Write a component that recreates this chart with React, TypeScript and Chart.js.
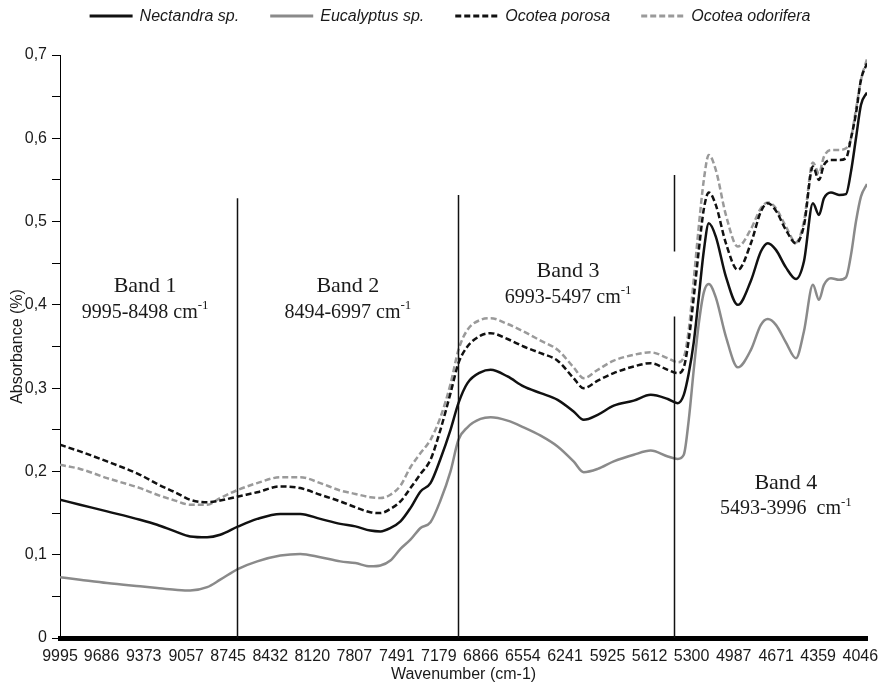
import React, { useEffect, useRef } from 'react';
import { Chart, registerables } from 'chart.js';

Chart.register(...registerables);

// Wavenumbers (cm-1) of the sampled spectrum points
const WAVENUMBERS = [
  9995, 9846, 9645, 9400, 9273, 9139, 9027, 8901, 8804, 8670,
  8529, 8357, 8209, 8060, 7911, 7799, 7688, 7613, 7539, 7464,
  7390, 7315, 7241, 7167, 7092, 7033, 6966, 6869, 6794, 6668,
  6549, 6422, 6296, 6177, 6102, 5998, 5879, 5730, 5604, 5477,
  5403, 5358, 5321, 5284, 5246, 5209, 5172, 5120, 5045, 4956,
  4859, 4785, 4733, 4673, 4599, 4524, 4465, 4398, 4353, 4316,
  4264, 4204, 4152, 4115, 4078, 4041, 3996,
];

const NECTANDRA = [
  0.166, 0.160, 0.152, 0.142, 0.136, 0.128, 0.122, 0.121, 0.124, 0.134,
  0.143, 0.149, 0.149, 0.143, 0.137, 0.134, 0.129, 0.128, 0.132, 0.140,
  0.156, 0.176, 0.186, 0.215, 0.250, 0.282, 0.306, 0.319, 0.322, 0.314,
  0.302, 0.294, 0.286, 0.272, 0.262, 0.268, 0.279, 0.285, 0.292, 0.287,
  0.282, 0.292, 0.318, 0.355, 0.410, 0.465, 0.498, 0.482, 0.434, 0.400,
  0.429, 0.464, 0.474, 0.466, 0.445, 0.431, 0.452, 0.522, 0.508, 0.528,
  0.535, 0.532, 0.533, 0.560, 0.600, 0.640, 0.655,
];

const EUCALYPTUS = [
  0.073, 0.070, 0.066, 0.062, 0.060, 0.058, 0.057, 0.061, 0.070, 0.083,
  0.092, 0.099, 0.101, 0.097, 0.092, 0.090, 0.086, 0.087, 0.093, 0.107,
  0.118, 0.132, 0.139, 0.165, 0.200, 0.238, 0.253, 0.263, 0.265, 0.261,
  0.253, 0.243, 0.230, 0.212, 0.199, 0.203, 0.212, 0.220, 0.225, 0.218,
  0.215, 0.220, 0.262, 0.322, 0.378, 0.415, 0.425, 0.409, 0.362, 0.325,
  0.346, 0.376, 0.383, 0.376, 0.355, 0.336, 0.368, 0.424, 0.406, 0.424,
  0.432, 0.430, 0.433, 0.460, 0.500, 0.530, 0.545,
];

const OCOTEA_POROSA = [
  0.232, 0.224, 0.212, 0.196, 0.185, 0.175, 0.166, 0.163, 0.165, 0.170,
  0.175, 0.182, 0.180, 0.172, 0.164, 0.157, 0.151, 0.150, 0.155, 0.164,
  0.180, 0.197, 0.214, 0.250, 0.294, 0.330, 0.350, 0.363, 0.366, 0.359,
  0.350, 0.342, 0.333, 0.312, 0.300, 0.309, 0.318, 0.326, 0.330, 0.322,
  0.318, 0.325, 0.358, 0.409, 0.466, 0.515, 0.535, 0.520, 0.474, 0.442,
  0.474, 0.512, 0.522, 0.513, 0.490, 0.474, 0.495, 0.566, 0.550, 0.568,
  0.574, 0.574, 0.576, 0.600, 0.630, 0.670, 0.690,
];

const OCOTEA_ODORIFERA = [
  0.208, 0.203, 0.192, 0.180, 0.172, 0.165, 0.160, 0.160, 0.168, 0.178,
  0.186, 0.193, 0.193, 0.186, 0.177, 0.173, 0.169, 0.168, 0.172, 0.183,
  0.205, 0.222, 0.238, 0.265, 0.305, 0.346, 0.370, 0.382, 0.384, 0.377,
  0.368, 0.357, 0.346, 0.325, 0.312, 0.322, 0.333, 0.340, 0.343, 0.336,
  0.331, 0.337, 0.370, 0.430, 0.495, 0.550, 0.580, 0.562, 0.508, 0.470,
  0.491, 0.516, 0.523, 0.516, 0.494, 0.475, 0.500, 0.571, 0.558, 0.578,
  0.586, 0.586, 0.588, 0.600, 0.635, 0.670, 0.695,
];

const SERIES_NAMES = ['Nectandra sp.', 'Eucalyptus sp.', 'Ocotea porosa', 'Ocotea odorifera'];

const X_TICKS = [
  9995, 9686, 9373, 9057, 8745, 8432, 8120, 7807, 7491, 7179,
  6866, 6554, 6241, 5925, 5612, 5300, 4987, 4671, 4359, 4046,
];
const X_MIN = 3996;
const X_MAX = 9995;
const Y_MIN = 0;
const Y_MAX = 0.7;
const Y_STEP = 0.05;

// Band separators (wavenumber, top value, optional gap [low, high])
const BAND_LINES = [8678, 7033, 5433];
const BAND_LINE_TOPS = [0.528, 0.532, 0.556];
const BAND_LINE_GAPS: (number[] | null)[] = [null, null, [0.386, 0.464]];

// Band annotations
const BAND_NAMES = ['Band 1', 'Band 2', 'Band 3', 'Band 4'];
const BAND_RANGES = ['9995-8498 cm', '8494-6997 cm', '6993-5497 cm', '5493-3996  cm'];
const BAND_LABEL_X = [9362, 7855, 6218, 4599];
const BAND_LABEL_Y = [0.422, 0.422, 0.440, 0.186];

const BLACK = '#111111';
const GRAY = '#8a8a8a';
const GRAY_DASH = '#9a9a9a';
const SANS = "'Liberation Sans', Arial, Helvetica, sans-serif";
const SERIF = "'Liberation Serif', 'Times New Roman', serif";

const bandPlugin = {
  id: 'bands',
  afterDatasetsDraw(chart: any) {
    const { ctx, scales } = chart;
    const xs = scales.x;
    const ys = scales.y;
    ctx.save();
    ctx.strokeStyle = BLACK;
    ctx.lineWidth = 1.5;
    BAND_LINES.forEach((wn, i) => {
      const x = Math.round(xs.getPixelForValue(wn)) + 0.5;
      const yTop = ys.getPixelForValue(BAND_LINE_TOPS[i]);
      const yBot = ys.getPixelForValue(0);
      const gap = BAND_LINE_GAPS[i];
      ctx.beginPath();
      if (gap) {
        ctx.moveTo(x, yTop);
        ctx.lineTo(x, ys.getPixelForValue(gap[1]));
        ctx.moveTo(x, ys.getPixelForValue(gap[0]));
        ctx.lineTo(x, yBot);
      } else {
        ctx.moveTo(x, yTop);
        ctx.lineTo(x, yBot);
      }
      ctx.stroke();
    });

    ctx.fillStyle = '#1a1a1a';
    ctx.textBaseline = 'middle';
    BAND_NAMES.forEach((name, i) => {
      const cx = xs.getPixelForValue(BAND_LABEL_X[i]);
      const cy = ys.getPixelForValue(BAND_LABEL_Y[i]);
      ctx.font = `22px ${SERIF}`;
      ctx.textAlign = 'center';
      ctx.fillText(name, cx, cy);
      // range text with superscript -1
      const base = BAND_RANGES[i];
      ctx.font = `20px ${SERIF}`;
      const wBase = ctx.measureText(base).width;
      ctx.font = `13px ${SERIF}`;
      const wSup = ctx.measureText('-1').width;
      const startX = cx - (wBase + wSup) / 2;
      ctx.textAlign = 'left';
      ctx.font = `20px ${SERIF}`;
      ctx.fillText(base, startX, cy + 26);
      ctx.font = `13px ${SERIF}`;
      ctx.fillText('-1', startX + wBase, cy + 19);
    });
    ctx.restore();
  },
};

const legendPlugin = {
  id: 'customLegend',
  afterDraw(chart: any) {
    const ctx = chart.ctx;
    ctx.save();
    ctx.font = `italic 16px ${SANS}`;
    const lineLen = 43;
    const gapText = 7;
    const gapItem = 31;
    const items = chart.data.datasets.map((ds: any) => ({
      text: ds.label,
      w: ctx.measureText(ds.label).width,
      color: ds.borderColor,
      dash: ds.borderDash || [],
    }));
    const total =
      items.reduce((s: number, it: any) => s + lineLen + gapText + it.w, 0) +
      gapItem * (items.length - 1);
    let x = chart.width / 2 + 5 - total / 2;
    const y = 8;
    items.forEach((it: any) => {
      ctx.strokeStyle = it.color;
      ctx.lineWidth = 3;
      ctx.setLineDash(it.dash);
      ctx.beginPath();
      ctx.moveTo(x, y);
      ctx.lineTo(x + lineLen, y);
      ctx.stroke();
      ctx.setLineDash([]);
      ctx.fillStyle = '#1a1a1a';
      ctx.textAlign = 'left';
      ctx.textBaseline = 'middle';
      ctx.fillText(it.text, x + lineLen + gapText, y + 1);
      x += lineLen + gapText + it.w + gapItem;
    });
    ctx.restore();
  },
};

function series(values: number[]) {
  return WAVENUMBERS.map((w, i) => ({ x: w, y: values[i] }));
}

export default function App() {
  const ref = useRef<HTMLCanvasElement>(null);

  useEffect(() => {
    if (!ref.current) return;
    const chart = new Chart(ref.current, {
      type: 'line',
      data: {
        datasets: [
          {
            label: SERIES_NAMES[0],
            data: series(NECTANDRA),
            borderColor: BLACK,
            borderWidth: 2.5,
            borderDash: [],
          },
          {
            label: SERIES_NAMES[1],
            data: series(EUCALYPTUS),
            borderColor: GRAY,
            borderWidth: 2.5,
            borderDash: [],
          },
          {
            label: SERIES_NAMES[2],
            data: series(OCOTEA_POROSA),
            borderColor: BLACK,
            borderWidth: 2.5,
            borderDash: [6, 3],
          },
          {
            label: SERIES_NAMES[3],
            data: series(OCOTEA_ODORIFERA),
            borderColor: GRAY_DASH,
            borderWidth: 2.5,
            borderDash: [6, 3],
          },
        ],
      },
      options: {
        animation: false,
        responsive: true,
        maintainAspectRatio: false,
        layout: { padding: { top: 47, right: 15, left: 0, bottom: 0 } },
        elements: {
          point: { radius: 0 },
          line: { tension: 0.4, cubicInterpolationMode: 'monotone', fill: false },
        },
        plugins: {
          legend: { display: false },
          tooltip: { enabled: false },
        },
        scales: {
          x: {
            type: 'linear',
            min: X_MIN,
            max: X_MAX,
            reverse: true,
            afterBuildTicks: (scale: any) => {
              scale.ticks = X_TICKS.map((v) => ({ value: v }));
            },
            afterFit: (scale: any) => {
              scale.height = 46;
              scale.paddingLeft = 0;
              scale.paddingRight = 0;
            },
            grid: { display: false, drawTicks: false },
            border: { display: true, color: '#000000', width: 5 },
            ticks: {
              autoSkip: false,
              maxRotation: 0,
              minRotation: 0,
              padding: 9,
              color: '#1a1a1a',
              font: { family: SANS, size: 16 },
              callback: (v: any) => String(v),
            },
            title: {
              display: true,
              text: 'Wavenumber (cm-1)',
              color: '#1a1a1a',
              font: { family: SANS, size: 16 },
              padding: { top: 0, bottom: 0 },
            },
          },
          y: {
            type: 'linear',
            min: Y_MIN,
            max: Y_MAX,
            afterFit: (scale: any) => {
              scale.width = 52;
            },
            grid: {
              display: true,
              drawOnChartArea: false,
              drawTicks: true,
              tickLength: 8,
              tickColor: '#000000',
              tickWidth: 1,
            },
            border: { display: true, color: '#000000', width: 1 },
            ticks: {
              stepSize: Y_STEP,
              autoSkip: false,
              padding: 5,
              color: '#1a1a1a',
              font: { family: SANS, size: 16 },
              callback: (v: any) => {
                const r = Math.round(Number(v) * 100);
                if (r % 10 !== 0) return '';
                return r === 0 ? '0' : (r / 100).toFixed(1).replace('.', ',');
              },
            },
            title: {
              display: true,
              text: 'Absorbance (%)',
              color: '#1a1a1a',
              font: { family: SANS, size: 16 },
              padding: { top: 0, bottom: 0 },
            },
          },
        },
      },
      plugins: [bandPlugin, legendPlugin],
    } as any);
    return () => chart.destroy();
  }, []);

  return (
    <div style={{ width: 874, height: 676, position: 'relative' }}>
      <canvas ref={ref} />
    </div>
  );
}
